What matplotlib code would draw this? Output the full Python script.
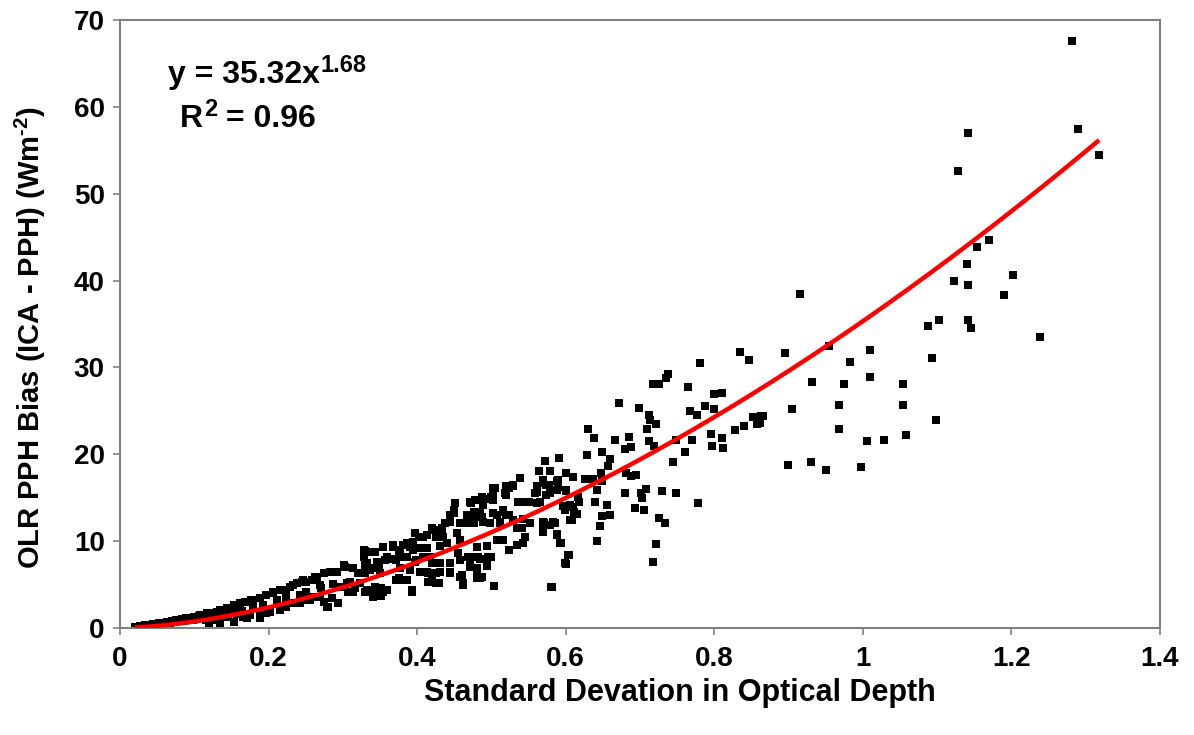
import numpy as np
import matplotlib
matplotlib.use("Agg")
import matplotlib.pyplot as plt

plt.rcParams['font.family'] = ['Liberation Sans', 'DejaVu Sans']
plt.rcParams['mathtext.fontset'] = 'custom'
plt.rcParams['mathtext.rm'] = 'Liberation Sans:bold'
plt.rcParams['mathtext.bf'] = 'Liberation Sans:bold'
plt.rcParams['mathtext.it'] = 'Liberation Sans:bold'

# ---- data ----
pts_low = [
 (0.020,0.12),(0.025,0.15),(0.030,0.22),(0.034,0.30),(0.038,0.33),(0.042,0.40),(0.046,0.45),
 (0.050,0.38),(0.053,0.55),(0.057,0.50),(0.060,0.62),(0.064,0.72),(0.067,0.60),(0.070,0.80),
 (0.073,0.70),(0.076,0.90),(0.080,0.85),(0.083,1.00),(0.086,0.75),(0.089,1.10),(0.092,0.95),
 (0.095,1.20),(0.098,0.90),(0.101,1.30),(0.104,1.05),(0.107,1.40),(0.110,1.15),(0.113,1.45),
 (0.116,0.95),(0.119,1.55),(0.122,1.25),(0.125,1.70),(0.128,1.35),(0.131,1.80),(0.134,1.10),
 (0.137,1.90),(0.140,1.50),(0.143,2.10),(0.146,1.30),(0.149,2.30),(0.152,1.75),(0.155,2.50),
 (0.158,1.60),(0.161,2.70),(0.164,2.00),
 (0.162,2.85),(0.153,2.65),(0.144,2.27),(0.135,2.07),(0.126,1.70),(0.117,1.70),(0.108,1.50),
 (0.099,1.30),(0.090,1.10),(0.081,0.92),(0.072,0.84),(0.063,0.73),(0.054,0.54),(0.045,0.46),
 (0.036,0.35),(0.027,0.23),
 (0.171,1.10),(0.153,0.73),(0.135,0.61),(0.120,0.50),(0.162,1.70),(0.144,1.30),(0.126,0.92),
 (0.166,1.30),(0.175,1.50),(0.188,1.70),(0.202,1.88),(0.215,2.07),(0.224,2.45),(0.233,2.85),
 (0.242,2.85),(0.251,3.20),(0.260,3.60),(0.274,3.03),(0.280,2.40),(0.294,2.85),(0.285,3.40),
 (0.271,4.55),(0.307,4.20),(0.316,4.55),(0.330,4.20),(0.323,5.15),(0.305,5.15),
 (0.168,3.00),(0.177,3.20),(0.188,3.40),(0.197,3.80),(0.206,4.20),(0.220,4.40),(0.229,4.75),
 (0.238,5.15),(0.247,5.50),(0.258,5.50),(0.265,5.90),(0.274,6.30),(0.283,6.50),(0.292,6.50),
 (0.303,7.05),(0.314,6.90),(0.321,6.30),(0.330,6.30),(0.330,7.25),(0.328,8.90),
 (0.171,3.00),(0.179,3.20),(0.188,3.40),(0.197,3.80),(0.206,4.00),(0.215,4.40),(0.224,4.40),
 (0.233,4.95),(0.245,5.30),(0.251,5.30),(0.262,5.90),(0.302,7.20),(0.332,7.25),
 (0.278,2.45),(0.269,3.60),(0.256,3.20),(0.233,2.85),(0.215,2.45),(0.197,1.70),(0.188,1.10),
 (0.296,4.75),(0.287,5.10),(0.269,4.95),(0.251,4.20),(0.242,3.80),(0.224,3.40),(0.211,3.20),
 (0.193,2.65),(0.179,2.27),(0.310,5.30),(0.314,4.20),(0.332,4.20),
]

pts_mid = [
 (0.330,8.86),(0.328,9.00),(0.330,8.80),(0.328,8.20),(0.332,7.45),(0.337,6.70),(0.348,6.90),
 (0.359,8.20),(0.372,7.80),(0.386,8.20),(0.397,7.60),(0.408,8.20),(0.413,6.50),(0.420,7.45),
 (0.426,6.30),(0.431,7.45),(0.444,6.30),(0.455,8.60),(0.469,8.20),(0.471,7.25),(0.482,8.20),
 (0.496,8.20),(0.480,6.90),(0.494,7.10),(0.460,6.10),(0.462,5.15),(0.480,5.70),(0.485,5.70),
 (0.504,4.80),(0.393,4.20),(0.372,5.50),(0.350,4.40),(0.341,4.00),(0.354,4.20),(0.343,4.75),
 (0.332,4.20),(0.381,5.50),(0.426,5.15),(0.420,6.00),
 (0.433,11.5),(0.424,11.3),(0.420,11.5),(0.435,10.5),(0.440,9.75),(0.426,10.5),(0.413,10.7),
 (0.397,10.9),(0.402,10.5),(0.395,9.90),(0.381,9.55),(0.390,9.36),(0.404,9.20),(0.368,9.36),
 (0.375,8.80),(0.354,9.36),(0.341,8.80),(0.453,10.9),(0.431,9.40),(0.494,9.40),(0.437,12.1),
 (0.458,12.05),(0.444,13.0),(0.471,14.5),(0.487,15.1),
 (0.449,13.2),(0.444,12.2),(0.473,14.4),(0.478,13.4),(0.467,12.05),(0.476,12.05),(0.408,10.5),
 (0.422,11.3),(0.433,10.7),(0.458,10.1),(0.386,9.75),(0.368,9.55),(0.343,8.80),(0.377,9.00),
 (0.395,9.00),(0.413,9.20),(0.381,8.20),(0.368,8.00),(0.357,7.80),(0.346,7.60),(0.399,7.80),
 (0.417,8.20),(0.426,7.45),(0.444,7.45),(0.458,7.80),(0.473,8.20),(0.471,7.05),(0.480,6.70),
 (0.332,6.70),(0.341,6.90),(0.350,6.30),(0.377,6.90),(0.390,6.70),(0.404,6.50),(0.415,6.30),
 (0.431,6.50),(0.444,6.50),(0.375,5.70),(0.386,5.50),(0.415,5.30),(0.429,5.15),(0.458,5.90),
 (0.462,4.95),(0.332,4.40),(0.343,4.40),(0.352,4.60),(0.359,4.40),(0.341,3.60),(0.352,3.70),
 (0.393,4.40),
 (0.529,16.3),(0.520,16.3),(0.505,16.1),(0.518,15.5),(0.561,16.3),(0.570,16.7),(0.577,16.5),
 (0.588,16.9),(0.588,15.9),(0.601,15.9),(0.559,15.5),(0.574,15.3),(0.498,14.9),(0.489,14.5),
 (0.478,14.7),(0.502,15.3),(0.536,14.5),(0.550,14.5),(0.561,14.4),(0.597,14.0),(0.606,14.2),
 (0.611,13.4),(0.476,13.4),(0.485,13.4),(0.502,13.2),(0.516,13.4),(0.523,13.0),(0.489,12.2),
 (0.512,12.05),(0.529,12.4),(0.570,12.2),(0.583,12.2),(0.606,12.4),(0.538,11.5),(0.545,10.5),
 (0.570,11.3),(0.579,11.9),(0.588,10.7),(0.507,10.1),(0.516,10.1),(0.534,9.55),(0.543,9.75),
 (0.523,9.00),(0.592,9.75),(0.480,9.36),(0.473,8.20),(0.485,8.00),(0.500,8.20),(0.494,7.25),
 (0.480,6.90),(0.603,8.40),(0.599,7.45),(0.480,5.70),(0.487,5.90),(0.504,4.80),(0.580,4.70),
 (0.564,18.1),(0.538,17.3),(0.570,17.0),(0.561,16.3),(0.574,16.5),(0.589,17.0),(0.589,16.2),
 (0.523,16.1),(0.505,16.1),(0.519,15.3),(0.561,15.7),(0.579,15.5),(0.565,14.5),(0.547,14.5),
 (0.537,14.5),(0.500,15.1),(0.494,14.9),(0.502,14.7),(0.478,14.7),(0.489,14.2),(0.451,14.4),
 (0.449,13.6),(0.444,12.4),(0.480,13.4),(0.467,13.0),(0.476,12.6),(0.487,12.8),(0.507,13.0),
 (0.516,13.6),(0.520,13.0),(0.498,12.1),(0.512,12.2),(0.543,12.6),(0.552,12.1),(0.534,11.5),
 (0.541,11.5),(0.617,15.1),(0.502,16.1),(0.529,16.5),
]

pts_high = [
 (0.835,31.8),(0.847,30.8),(0.781,30.5),(0.738,29.3),(0.735,28.8),(0.717,28.1),(0.726,28.1),
 (0.764,27.7),(0.672,25.9),(0.698,25.3),(0.799,26.9),(0.811,27.0),(0.788,25.6),(0.800,25.2),
 (0.767,25.0),(0.777,24.5),(0.712,24.5),(0.714,24.0),(0.722,23.5),(0.852,24.3),(0.863,24.4),
 (0.858,23.5),(0.840,23.3),(0.828,22.8),(0.630,22.9),(0.638,21.9),(0.709,22.9),(0.666,21.6),
 (0.685,22.0),(0.712,21.5),(0.748,21.6),(0.770,21.6),(0.796,22.3),(0.811,21.9),(0.797,20.9),
 (0.812,20.7),(0.680,20.6),(0.688,20.8),(0.719,20.9),(0.761,20.3),(0.649,20.3),(0.629,19.9),
 (0.660,19.5),(0.657,18.7),(0.744,19.1),(0.591,19.6),(0.572,19.2),(0.647,17.9),(0.681,17.9),
 (0.695,17.6),(0.688,17.5),(0.600,17.9),(0.610,17.4),(0.626,17.1),(0.637,17.2),(0.649,16.9),
 (0.579,18.1),(0.642,15.9),(0.601,15.8),(0.708,16.0),(0.680,15.5),(0.702,15.5),(0.730,15.8),
 (0.749,15.5),(0.703,15.0),(0.618,14.5),(0.640,14.5),(0.655,14.2),(0.778,14.4),(0.693,13.8),
 (0.705,13.6),(0.599,13.6),(0.610,13.9),(0.615,13.1),(0.649,12.9),(0.659,13.0),(0.726,12.7),
 (0.734,12.1),(0.608,12.4),(0.571,12.1),(0.586,12.1),(0.570,11.1),(0.646,11.8),(0.588,10.8),
 (0.642,10.0),(0.593,9.75),(0.722,9.67),(0.605,8.40),(0.600,7.40),(0.718,7.60),(0.581,4.70),
 (0.916,38.4),(0.895,31.7),(0.955,32.5),(1.009,32.0),(0.983,30.6),(1.093,31.1),(0.932,28.3),
 (0.974,28.1),(1.009,28.9),(1.054,28.1),(0.865,24.4),(0.861,23.6),(0.905,25.2),(0.968,25.7),
 (1.054,25.7),(0.968,22.9),(1.005,21.5),(1.029,21.7),(1.058,22.2),(1.099,23.9),(0.899,18.8),
 (0.930,19.1),(0.950,18.2),(0.997,18.5),
 (1.281,67.6),(1.141,57.0),(1.290,57.5),(1.128,52.6),(1.318,54.5),(1.170,44.7),(1.153,43.9),
 (1.140,41.9),(1.123,39.9),(1.141,39.5),(1.202,40.6),(1.190,38.3),(1.088,34.8),(1.102,35.5),
 (1.141,35.5),(1.146,34.5),(1.238,33.5),
]

x_vals = [p[0] for p in pts_low + pts_mid + pts_high]
y_vals = [p[1] for p in pts_low + pts_mid + pts_high]

fit_coef = 35.32
fit_exp = 1.68
x_ticks = [0, 0.2, 0.4, 0.6, 0.8, 1, 1.2, 1.4]
x_tick_labels = ['0', '0.2', '0.4', '0.6', '0.8', '1', '1.2', '1.4']
y_ticks = [0, 10, 20, 30, 40, 50, 60, 70]

W, H = 1194, 735
fig = plt.figure(figsize=(W / 100, H / 100), dpi=100)
ax = fig.add_axes([120/W, 1 - 628/H, 1040/W, 608/H])

ax.scatter(x_vals, y_vals, marker='s', s=40, c='black', linewidths=0, zorder=2)

xf = np.linspace(min(x_vals), max(x_vals), 300)
ax.plot(xf, fit_coef * xf ** fit_exp, color='#ff0000', lw=3.2, zorder=3, solid_capstyle='butt')

ax.set_xlim(0, 1.4)
ax.set_ylim(0, 70)
ax.set_xticks(x_ticks)
ax.set_xticklabels(x_tick_labels)
ax.set_yticks(y_ticks)

gray = '#808080'
for s in ax.spines.values():
    s.set_color(gray)
    s.set_linewidth(1.5)
ax.tick_params(axis='x', direction='out', length=5, width=1.2, color=gray, labelsize=20, pad=8)
ax.tick_params(axis='y', direction='out', length=5, width=1.2, color=gray, labelsize=20, pad=6)
for lab in ax.get_xticklabels() + ax.get_yticklabels():
    lab.set_fontweight('bold')

fig.text(680/W, 1 - 693/H, 'Standard Devation in Optical Depth', fontsize=22,
         fontweight='bold', ha='center', va='center')
fig.text(30/W, 1 - 337/H, r'OLR PPH Bias (ICA - PPH) (Wm$^{\text{-}2}$)', fontsize=21,
         fontweight='bold', ha='center', va='center', rotation=90)

renderer = fig.canvas.get_renderer()

def text_with_sup(x_px, base_px, main, sup, tail=''):
    t = fig.text(x_px/W, 1 - base_px/H, main, fontsize=23, fontweight='bold',
                 ha='left', va='baseline')
    ext = t.get_window_extent(renderer)
    s = fig.text((ext.x1 + 1)/W, 1 - (base_px - 11)/H, sup, fontsize=17, fontweight='bold',
                 ha='left', va='baseline')
    if tail:
        ext2 = s.get_window_extent(renderer)
        fig.text((ext2.x1)/W, 1 - base_px/H, tail, fontsize=23, fontweight='bold',
                 ha='left', va='baseline')

text_with_sup(168, 83, 'y = 35.32x', '1.68')
text_with_sup(180, 127, 'R', '2', ' = 0.96')

fig.savefig('out.png', dpi=100)
